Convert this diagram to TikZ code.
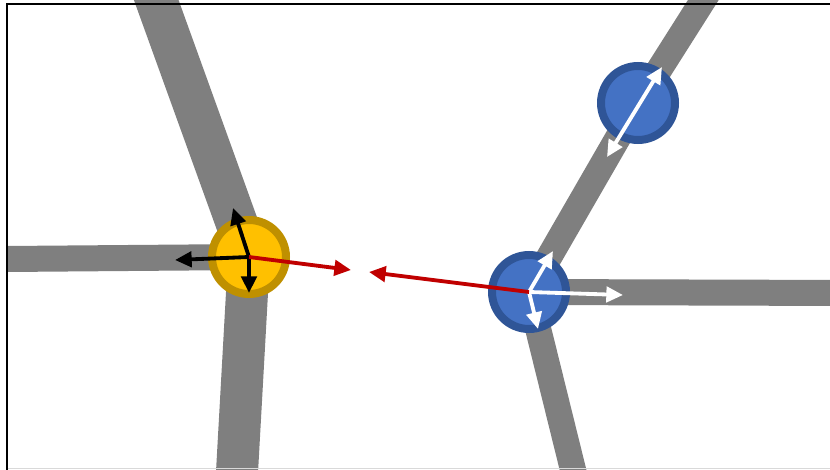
\documentclass[tikz,border=0pt]{standalone}
\usetikzlibrary{arrows.meta, backgrounds}
\definecolor{roadgray}{HTML}{7F7F7F}
\definecolor{gold}{HTML}{FFC000}
\definecolor{golddark}{HTML}{BF9000}
\definecolor{bluefill}{HTML}{4472C4}
\definecolor{bluedark}{HTML}{2F5597}
\definecolor{darkred}{HTML}{C00000}
\tikzstyle{road} = [
    draw=roadgray,
    line width=7.8mm
]
\tikzstyle{wideroad} = [
    draw=roadgray,
    line width=12.6mm
]
\tikzstyle{yellowjunction} = [
    circle,
    inner sep=0pt,
    minimum size=22.2mm,
    line width=2.4mm,
    draw=golddark,
    fill=gold
]
\tikzstyle{bluejunction} = [
    circle,
    inner sep=0pt,
    minimum size=22.2mm,
    line width=2.4mm,
    draw=bluedark,
    fill=bluefill
]
\tikzstyle{force} = [line width=1.15mm, -{Triangle[length=5mm, width=4.6mm]}]
\tikzstyle{bothforce} = [line width=1.15mm, {Triangle[length=5mm, width=4.6mm]}-{Triangle[length=5mm, width=4.6mm]}]

\begin{document}
\begin{tikzpicture}[x=0.3mm, y=-0.3mm]

\useasboundingbox (0,0) rectangle (830,470);
\clip (0,0) rectangle (830,470);

\node (yel) [yellowjunction] at (249,257) {};

\node (blu) [bluejunction] at (529,292) {};

\node (bls) [bluejunction] at (638,103) {};

\coordinate (leftend) at (7,259);
\coordinate (topleftend) at (149,-20);
\coordinate (bottomleftend) at (236,490);
\coordinate (toprightend) at (716,-20);
\coordinate (rightend) at (850,293);
\coordinate (bottomrightend) at (578,490);

\begin{scope}[on background layer]
\draw [road] (yel.center) -- (leftend);
\draw [wideroad] (yel.center) -- (topleftend);
\draw [wideroad] (yel.center) -- (bottomleftend);
\draw [road] (blu.center) -- (bls.center);
\draw [road] (bls.center) -- (toprightend);
\draw [road] (blu.center) -- (rightend);
\draw [road] (blu.center) -- (bottomrightend);
\end{scope}

\coordinate (yleft) at (175,260);
\coordinate (yup) at (233,208);
\coordinate (ydown) at (249,293);
\coordinate (ypush) at (351,270);

\coordinate (bup) at (553,251);
\coordinate (bright) at (623,295);
\coordinate (bdown) at (538,329);
\coordinate (bpush) at (369,272);

\coordinate (slow) at (607,157);
\coordinate (shigh) at (662,67);

\draw [force, black] (yel.center) -- (yleft);
\draw [force, black] (yel.center) -- (yup);
\draw [force, black] (yel.center) -- (ydown);
\draw [force, darkred] (yel.center) -- (ypush);

\draw [force, white] (blu.center) -- (bup);
\draw [force, white] (blu.center) -- (bright);
\draw [force, white] (blu.center) -- (bdown);
\draw [force, darkred] (blu.center) -- (bpush);

\draw [bothforce, white] (slow) -- (shigh);

\draw [gray!30, line width=0.3mm] (7,468) -- (830,468);
\draw [black, line width=0.8mm] (830,4) -- (7,4) -- (7,470);

\end{tikzpicture}
\end{document}
